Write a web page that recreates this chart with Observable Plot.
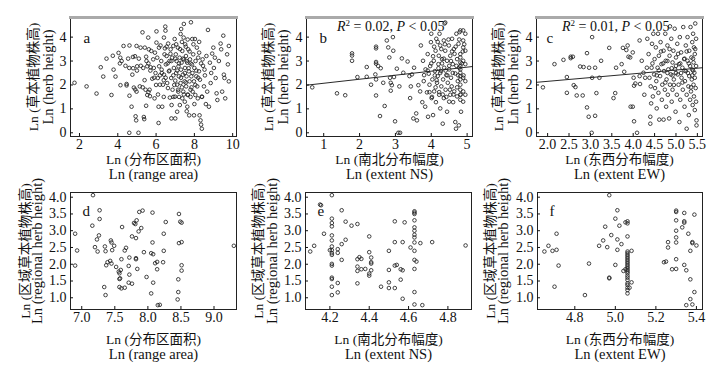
<!DOCTYPE html>
<html>
<head>
<meta charset="utf-8">
<script src="https://cdn.jsdelivr.net/npm/d3@7"></script>
<script src="https://cdn.jsdelivr.net/npm/@observablehq/plot@0.6"></script>
<style>
  html, body { margin: 0; padding: 0; background: #fff; }
  #root { position: relative; width: 719px; height: 368px; overflow: hidden;
          font-family: "Liberation Serif", "Times New Roman", "Noto Sans CJK SC", serif; }
  .panel { position: absolute; }
  .ann { position: absolute; font-size: 14px; white-space: nowrap; color: #111; line-height: 1; }
  .ann sup { font-size: 9px; vertical-align: 5px; line-height: 0; }
</style>
</head>
<body>
<div id="root"></div>
<script>
// ---------- data ----------
const pointsA = [[1.74,2.09],[2.37,1.94],[2.89,1.64],[3.11,2.74],[3.24,2.35],[3.41,3.10],[3.67,1.58],[3.74,3.22],[3.78,2.64],[3.88,2.35],[4.04,3.34],[4.13,3.14],[4.11,2.90],[4.14,1.99],[4.30,3.63],[4.46,2.04],[4.46,1.98],[4.54,3.10],[4.60,2.71],[4.61,3.65],[4.61,1.55],[4.72,1.09],[4.60,0.0],[4.79,3.17],[4.76,2.43],[4.84,1.89],[4.91,1.81],[4.98,1.72],[4.98,3.63],[5.01,2.78],[4.93,0.69],[4.96,0.52],[5.08,0.0],[5.15,1.94],[5.19,3.56],[5.29,4.20],[5.33,2.71],[5.36,0.66],[5.38,0.57],[5.41,3.56],[5.45,1.80],[5.48,1.13],[5.48,3.18],[5.54,1.58],[5.54,2.78],[5.59,3.98],[5.62,3.49],[5.66,1.80],[5.68,1.53],[5.71,2.74],[5.75,3.42],[5.80,2.26],[5.85,3.07],[5.88,2.71],[5.92,1.44],[5.94,3.35],[5.97,2.50],[6.02,4.24],[6.02,3.77],[6.06,3.14],[6.09,2.29],[6.13,1.09],[6.13,0.41],[6.15,3.56],[6.16,2.78],[6.20,2.01],[6.23,3.65],[6.27,3.00],[6.29,2.64],[6.32,1.09],[6.36,2.01],[6.41,3.98],[6.41,2.43],[6.44,3.28],[6.46,3.53],[6.48,4.44],[6.49,4.27],[6.51,2.86],[6.55,3.21],[6.58,2.08],[6.62,1.87],[6.63,3.73],[6.67,2.57],[6.70,3.00],[6.72,1.47],[6.76,3.49],[6.79,2.29],[6.81,1.16],[6.84,3.14],[6.86,1.80],[6.90,3.63],[6.93,2.71],[6.97,3.92],[6.99,1.51],[7.00,2.18],[7.03,3.28],[7.05,2.50],[7.07,3.00],[7.10,2.01],[7.10,0.88],[7.14,3.56],[7.16,1.72],[7.17,2.78],[7.19,2.36],[7.23,3.14],[7.24,1.16],[7.28,4.13],[7.28,2.08],[7.30,2.64],[7.31,4.34],[7.33,2.93],[7.37,1.44],[7.37,3.42],[7.40,2.43],[7.42,1.72],[7.44,3.98],[7.45,3.07],[7.45,4.55],[7.49,2.15],[7.51,2.71],[7.52,3.70],[7.56,3.21],[7.57,1.94],[7.59,2.36],[7.63,1.09],[7.63,2.93],[7.66,1.58],[7.68,3.49],[7.71,2.57],[7.73,0.73],[7.75,2.15],[7.77,3.07],[7.80,1.80],[7.82,4.62],[7.84,2.36],[7.87,2.86],[7.89,3.92],[7.91,1.72],[7.94,3.28],[7.98,0.73],[7.98,2.15],[8.00,2.71],[8.03,3.92],[8.05,1.58],[8.06,3.00],[8.10,2.36],[8.13,3.56],[8.15,1.94],[8.18,1.44],[8.20,3.14],[8.24,2.57],[8.25,3.35],[8.27,0.73],[8.29,2.22],[8.32,0.52],[8.35,0.34],[8.39,0.17],[8.39,1.51],[8.43,3.07],[8.50,1.94],[8.53,2.64],[8.63,3.21],[8.67,1.72],[8.71,4.30],[8.76,1.09],[8.81,2.93],[8.85,2.08],[8.88,2.50],[8.93,3.31],[8.99,3.56],[9.02,2.71],[9.07,3.14],[9.11,2.29],[9.16,1.65],[9.20,1.37],[9.28,3.00],[9.37,3.73],[9.40,3.49],[9.45,1.72],[9.51,4.06],[9.54,2.43],[9.57,2.29],[9.61,1.44],[9.71,3.28],[9.75,2.86],[9.80,3.63],[9.80,2.15],
[6.3,2.5],[6.5,2.3],[6.7,2.6],[6.9,2.4],[7.1,2.6],[7.3,2.3],[7.5,2.5],[7.7,2.7],[6.8,3.0],[7.0,3.1],[7.2,2.9],[7.4,3.1],[7.6,3.0],[7.8,2.9],[6.6,2.9],[7.9,2.5],[8.1,2.6],[8.2,2.3],[6.4,2.2],[6.2,2.4],[5.9,2.3],[5.7,2.6],[5.6,2.9],[6.0,2.0],[7.35,1.9],[7.55,2.1],[7.15,1.8],[6.95,2.0],[7.45,1.6],[7.65,1.6],[7.85,1.9],[8.05,2.0],[6.75,3.3],[7.25,3.5],[7.55,3.6],[7.75,3.4],[6.55,3.6],[7.05,3.7],[7.35,3.8],[7.65,3.9],[7.95,3.7],[8.25,3.8],[8.45,2.8],[8.55,2.4],[8.35,2.9],[5.2,2.8],[5.0,2.6],[4.8,2.7],[5.4,2.2],[5.5,3.0],[4.9,3.2],[5.1,3.1],[4.4,2.8],[4.2,3.0],[5.3,1.9],[5.6,1.7],[6.1,1.6],[6.4,1.5],[6.9,1.5],[7.2,1.5],[7.5,1.3],[7.8,1.5],[8.0,1.2],[8.4,1.5],[6.8,0.6],[7.0,0.6],[7.6,0.9],[8.6,1.2]];

const pointsB = [[0.68,1.90],[1.37,1.65],[1.60,1.57],[1.79,3.32],[1.79,3.23],[1.79,3.01],[1.94,2.33],[2.20,2.34],[2.20,2.75],[2.32,2.01],[2.46,3.60],[2.46,3.53],[2.46,2.96],[2.46,2.89],[2.44,2.44],[2.46,2.23],[2.46,1.56],[2.57,0.70],[2.52,2.79],[2.59,2.70],[2.66,2.09],[2.70,1.12],[2.76,3.86],[2.80,3.57],[2.83,3.15],[2.85,2.30],[2.87,2.09],[2.90,1.99],[2.87,1.76],[2.93,4.00],[2.94,3.43],[2.96,2.33],[2.99,0.48],[3.04,2.68],[3.08,0.0],[3.13,0.0],[3.11,1.94],[3.18,3.11],[3.22,2.51],[3.34,2.98],[3.39,2.37],[3.41,1.45],[3.43,1.94],[3.46,2.44],[3.50,0.60],[3.52,2.72],[3.58,0.81],[3.60,0.52],[3.64,1.99],[3.69,1.73],[3.71,3.65],[3.75,1.28],[3.77,3.01],[3.79,2.16],[3.80,2.41],[3.83,1.09],[3.84,2.65],[3.88,1.69],[3.90,3.29],[3.91,0.67],[3.93,2.47],[3.95,2.01],[3.97,2.79],[3.99,3.79],[4.00,4.14],[4.01,1.45],[4.03,2.23],[4.05,0.74],[4.07,3.01],[4.08,1.73],[4.10,2.58],[4.12,3.43],[4.13,1.28],[4.14,3.93],[4.16,2.09],[4.18,2.37],[4.20,2.87],[4.21,3.22],[4.22,1.59],[4.23,4.14],[4.25,3.65],[4.25,1.02],[4.27,2.58],[4.28,1.94],[4.30,3.08],[4.32,0.38],[4.33,2.23],[4.35,3.86],[4.35,1.45],[4.36,2.72],[4.37,4.57],[4.39,4.61],[4.39,3.43],[4.40,1.80],[4.42,2.41],[4.44,0.88],[4.44,3.01],[4.46,2.09],[4.49,3.65],[4.50,1.30],[4.50,2.65],[4.53,1.59],[4.53,3.22],[4.55,2.30],[4.57,1.94],[4.58,3.93],[4.60,2.87],[4.61,1.28],[4.63,3.50],[4.64,1.73],[4.67,2.48],[4.67,0.45],[4.69,0.17],[4.70,4.14],[4.72,3.08],[4.72,1.52],[4.74,2.16],[4.76,3.72],[4.77,0.31],[4.78,2.72],[4.79,4.21],[4.81,4.28],[4.81,3.29],[4.81,3.15],[4.81,2.94],[4.81,2.79],[4.81,2.65],[4.81,2.51],[4.81,2.37],[4.81,2.23],[4.81,2.01],[4.81,1.80],[4.81,1.59],[4.81,1.38],[4.89,4.28],[4.89,3.86],[4.89,3.57],[4.89,3.01],[4.89,2.30],[4.89,1.73],[4.89,1.30],[4.95,4.14],[4.95,3.43],[4.95,2.87],[4.95,2.16],[4.95,1.59],[4.83,0.88],
[3.9,2.6],[4.0,2.9],[4.1,2.4],[4.2,2.7],[4.3,2.9],[4.4,2.6],[4.5,2.8],[4.6,2.5],[4.7,2.8],[4.05,3.2],[4.15,2.2],[4.25,2.5],[4.35,3.1],[4.45,2.4],[4.55,3.0],[4.65,3.3],[4.75,2.4],[4.85,2.9],[4.9,2.4],[4.12,1.9],[4.22,1.7],[4.32,1.6],[4.42,1.5],[4.52,1.8],[4.62,1.6],[4.72,1.9],[4.82,1.6],[3.95,1.7],[4.02,1.5],[4.08,3.6],[4.18,3.8],[4.28,3.5],[4.38,3.7],[4.48,3.9],[4.58,3.4],[4.68,3.6],[4.78,3.9],[4.88,3.4],[4.92,3.7]];

const pointsC = [[1.89,1.90],[2.16,2.87],[2.37,3.05],[2.45,2.33],[2.45,1.67],[2.54,3.18],[2.54,3.12],[2.59,3.18],[2.61,1.99],[2.65,1.91],[2.68,1.56],[2.76,2.77],[2.82,1.56],[2.84,2.75],[2.92,3.33],[2.92,1.06],[2.96,0.67],[2.97,2.72],[3.04,4.00],[3.04,2.30],[3.11,2.72],[3.11,0.71],[3.14,1.66],[3.21,2.30],[3.25,3.01],[3.03,0.0],[3.44,3.55],[3.54,1.45],[3.58,1.66],[3.60,2.72],[3.73,2.87],[3.76,3.55],[3.79,2.55],[3.84,3.46],[3.87,3.65],[3.89,3.18],[3.93,3.15],[3.94,1.09],[3.99,1.09],[3.99,3.36],[4.01,2.30],[4.02,1.97],[4.05,2.06],[4.02,0.48],[4.09,0.0],[4.15,2.37],[4.15,3.86],[4.16,2.04],[4.20,3.01],[4.24,2.51],[4.26,1.59],[4.28,2.30],[4.32,2.72],[4.33,3.93],[4.36,3.29],[4.38,2.30],[4.40,0.67],[4.40,0.38],[4.41,1.94],[4.42,1.23],[4.43,2.72],[4.44,3.72],[4.46,1.52],[4.47,4.14],[4.49,2.44],[4.50,3.08],[4.51,1.87],[4.53,3.57],[4.54,2.16],[4.55,1.02],[4.57,2.72],[4.58,4.14],[4.59,1.67],[4.60,3.22],[4.61,0.55],[4.63,2.37],[4.64,3.79],[4.66,2.87],[4.67,1.38],[4.68,2.01],[4.71,3.43],[4.71,0.55],[4.72,2.58],[4.74,1.80],[4.75,4.14],[4.76,3.01],[4.77,1.09],[4.78,2.23],[4.80,3.65],[4.81,1.59],[4.82,2.65],[4.84,0.60],[4.85,3.22],[4.86,4.45],[4.86,2.01],[4.88,2.44],[4.89,3.93],[4.90,1.30],[4.92,2.94],[4.92,1.80],[4.94,3.43],[4.95,2.23],[4.97,4.35],[4.98,2.65],[4.99,0.88],[5.00,3.15],[5.02,1.59],[5.03,3.72],[5.04,2.44],[5.06,2.01],[5.07,2.87],[5.08,0.45],[5.09,4.00],[5.10,1.38],[5.12,3.36],[5.13,2.30],[5.15,2.72],[5.16,1.80],[5.17,4.42],[5.19,3.08],[5.20,1.09],[5.21,2.16],[5.23,3.65],[5.23,2.58],[5.25,0.17],[5.25,1.59],[5.27,3.01],[5.27,4.00],[5.29,1.94],[5.30,0.74],[5.31,2.37],[5.31,3.43],[5.33,2.79],[5.33,1.38],[5.34,4.42],[5.35,1.73],[5.36,3.15],[5.37,2.23],[5.38,3.79],[5.38,2.65],[5.39,1.16],[5.40,4.14],[5.41,2.94],[5.41,2.01],[5.42,3.57],[5.42,1.52],[5.43,2.51],[5.44,3.29],[5.44,2.30],[5.44,0.95],[5.45,4.57],[5.46,1.87],[5.47,2.79],[5.48,0.31],[5.48,0.52],[5.47,3.93],[5.47,1.30],
[4.6,2.6],[4.7,2.9],[4.8,2.5],[4.9,2.7],[5.0,2.5],[5.1,2.9],[5.2,2.6],[5.3,2.9],[5.4,2.6],[4.65,3.4],[4.85,3.5],[5.05,3.3],[5.25,3.4],[5.45,3.5],[4.75,2.1],[4.95,2.0],[5.15,2.1],[5.35,1.9],[5.4,3.1],[5.2,3.1],[5.0,2.8],[4.8,3.0],[4.55,2.4],[4.45,2.9],[5.38,2.4],[5.28,2.5],[5.12,2.5],[4.92,2.4]];

const pointsD = [[7.17,4.06],[7.27,3.61],[7.27,3.35],[7.16,3.15],[6.90,2.91],[7.26,2.86],[7.23,2.74],[6.93,2.41],[7.20,2.51],[7.24,2.38],[6.90,1.96],[7.35,2.53],[7.36,2.39],[7.34,1.32],[7.36,1.08],[7.44,2.71],[7.45,2.65],[7.49,2.55],[7.46,2.42],[7.39,2.06],[7.37,1.97],[7.43,2.10],[7.45,2.02],[7.52,1.92],[7.60,2.15],[7.56,1.78],[7.57,1.73],[7.59,1.83],[7.58,1.58],[7.57,1.56],[7.57,1.32],[7.60,1.28],[7.65,1.30],[7.61,3.11],[7.65,2.41],[7.67,2.49],[7.72,2.20],[7.71,1.95],[7.72,1.69],[7.71,1.45],[7.76,1.42],[7.76,2.83],[7.82,2.78],[7.87,3.56],[7.92,3.60],[7.79,3.23],[7.83,3.31],[7.81,3.20],[7.86,2.98],[7.90,3.08],[7.82,2.18],[7.82,2.15],[7.84,1.86],[7.94,2.36],[7.98,1.62],[8.07,3.54],[8.07,2.65],[8.05,2.33],[8.08,2.30],[8.11,2.03],[8.14,2.07],[8.14,1.85],[8.08,1.45],[8.05,1.13],[8.24,2.40],[8.23,2.06],[8.27,3.26],[8.24,2.91],[8.18,0.79],[8.15,0.78],[8.47,3.50],[8.49,3.27],[8.51,3.24],[8.47,2.63],[8.51,2.66],[8.51,1.97],[8.51,1.81],[8.46,1.55],[8.46,1.17],[8.45,0.95],[9.30,2.55]];

const pointsE = [[4.21,4.06],[4.15,3.78],[4.155,3.76],[4.26,3.61],[4.21,3.36],[4.21,3.23],[4.21,3.13],[4.17,2.91],[4.21,2.86],[4.21,2.71],[4.12,2.55],[4.10,2.38],[4.20,2.42],[4.21,2.42],[4.21,2.53],[4.21,2.33],[4.21,2.28],[4.24,2.45],[4.24,2.34],[4.26,2.60],[4.28,2.73],[4.26,2.13],[4.28,3.27],[4.31,3.15],[4.34,3.20],[4.21,2.01],[4.21,1.96],[4.21,1.60],[4.21,1.56],[4.21,1.33],[4.21,1.08],[4.24,1.44],[4.24,1.16],[4.34,2.15],[4.35,2.21],[4.36,2.16],[4.34,1.93],[4.34,1.80],[4.36,1.85],[4.38,1.86],[4.34,1.43],[4.40,2.83],[4.40,2.36],[4.41,2.20],[4.41,2.06],[4.41,2.02],[4.41,1.82],[4.40,1.72],[4.40,1.66],[4.46,1.33],[4.50,2.40],[4.50,1.83],[4.50,1.46],[4.50,1.29],[4.53,3.28],[4.53,2.66],[4.53,1.96],[4.54,1.98],[4.53,1.29],[4.56,1.85],[4.57,1.82],[4.56,1.54],[4.57,2.66],[4.58,3.25],[4.57,0.97],[4.61,2.50],[4.63,3.58],[4.63,3.54],[4.63,3.50],[4.63,3.31],[4.63,3.10],[4.63,3.00],[4.63,2.88],[4.63,2.80],[4.63,2.65],[4.63,2.40],[4.63,2.13],[4.64,2.08],[4.63,1.86],[4.63,1.17],[4.63,0.80],[4.67,0.78],[4.66,2.63],[4.72,2.66],[4.89,2.56]];

const pointsF = [[4.97,4.06],[5.01,3.61],[5.00,3.36],[5.05,3.25],[5.06,3.28],[5.06,3.22],[5.02,3.15],[4.95,3.12],[4.98,2.87],[5.01,2.74],[4.94,2.71],[5.03,2.60],[5.06,2.83],[4.92,2.55],[4.96,2.51],[5.01,2.43],[5.08,2.40],[5.06,2.38],[5.06,2.33],[5.06,2.28],[5.06,2.23],[5.06,2.18],[5.06,2.13],[5.06,2.08],[5.06,2.03],[5.06,1.98],[5.06,1.93],[5.06,1.88],[5.06,1.83],[5.06,1.78],[5.06,1.73],[5.06,1.66],[5.06,1.60],[5.06,1.53],[5.06,1.43],[5.06,1.38],[5.06,1.30],[5.06,1.23],[5.06,1.13],[5.07,1.30],[5.08,1.46],[5.05,1.85],[5.04,1.80],[5.00,1.98],[4.87,2.02],[4.97,1.60],[4.97,1.58],[4.85,1.08],[4.71,2.91],[4.71,2.43],[4.67,2.55],[4.65,2.38],[4.69,2.40],[4.72,1.96],[4.70,1.33],[5.24,2.06],[5.25,2.08],[5.26,2.66],[5.26,2.50],[5.28,1.85],[5.30,3.60],[5.30,3.56],[5.30,3.31],[5.30,3.00],[5.30,2.80],[5.30,2.65],[5.30,2.15],[5.30,1.86],[5.34,3.53],[5.34,3.28],[5.34,3.24],[5.33,3.10],[5.36,2.91],[5.38,2.66],[5.38,2.63],[5.40,2.56],[5.39,3.48],[5.37,2.40],[5.34,1.98],[5.35,1.82],[5.37,1.55],[5.39,1.17],[5.37,0.96],[5.35,0.78],[5.38,0.80]];

const lineB = [[0.52,1.99],[5.15,2.77]];
const lineC = [[1.74,2.11],[5.62,2.72]];

const yLabelTop = ["Ln (草本植物株高)", "Ln (herb height)"];
const yLabelBottom = ["Ln (区域草本植物株高)", "Ln (regional herb height)"];
const xLabels = {
  a: ["Ln (分布区面积)", "Ln (range area)"],
  b: ["Ln (南北分布幅度)", "Ln (extent NS)"],
  c: ["Ln (东西分布幅度)", "Ln (extent EW)"]
};
const ticksTopY = [0, 1, 2, 3, 4];
const ticksBottomY = [1.0, 1.5, 2.0, 2.5, 3.0, 3.5, 4.0];
const ticksA = [2, 4, 6, 8, 10];
const ticksB = [1, 2, 3, 4, 5];
const ticksC = [2.0, 2.5, 3.0, 3.5, 4.0, 4.5, 5.0, 5.5];
const ticksD = [7.0, 7.5, 8.0, 8.5, 9.0];
const ticksE = [4.2, 4.4, 4.6, 4.8];
const ticksF = [4.8, 5.0, 5.2, 5.4];

// ---------- drawing ----------
const FONT = '"Liberation Serif", "Times New Roman", "Noto Sans CJK SC", serif';
const root = document.getElementById("root");

function panel(cfg) {
  const marks = [
    Plot.frame({stroke: "#222", strokeWidth: 1})
  ];
  if (cfg.topBar) marks.push(Plot.frame({anchor: "top", stroke: "#aaa", strokeWidth: 3}));
  marks.push(Plot.axisX({ticks: cfg.xticks, tickFormat: cfg.xfmt, tickSize: -3, tickPadding: 6, label: null, fontSize: 14}));
  marks.push(Plot.axisY({ticks: cfg.yticks, tickFormat: cfg.yfmt, tickSize: -3, tickPadding: 7, label: null, fontSize: 14}));
  if (cfg.line) marks.push(Plot.line(cfg.line, {x: d => d[0], y: d => d[1], stroke: "#111", strokeWidth: 0.9}));
  marks.push(Plot.dot(cfg.points, {x: d => d[0], y: d => d[1], r: 1.8, stroke: "#222", strokeWidth: 0.85, fill: "none"}));
  marks.push(Plot.text([cfg.letter], {frameAnchor: "top-left", dx: cfg.letterDx, dy: cfg.letterDy, text: d => d, textAnchor: "start", fontSize: 15}));
  marks.push(Plot.text([cfg.xlab[0]], {frameAnchor: "bottom", dy: cfg.xlabDy[0], text: d => d, textAnchor: "middle", fontSize: 13.5}));
  marks.push(Plot.text([cfg.xlab[1]], {frameAnchor: "bottom", dy: cfg.xlabDy[1], text: d => d, textAnchor: "middle", fontSize: 14.5}));
  marks.push(Plot.text([cfg.ylab[0]], {frameAnchor: "left", dx: cfg.ylabDx[0], text: d => d, rotate: -90, textAnchor: "middle", fontSize: 13.5}));
  marks.push(Plot.text([cfg.ylab[1]], {frameAnchor: "left", dx: cfg.ylabDx[1], text: d => d, rotate: -90, textAnchor: "middle", fontSize: 14.5}));

  const p = Plot.plot({
    width: cfg.width, height: cfg.height,
    marginLeft: cfg.ml, marginRight: cfg.mr, marginTop: cfg.mt, marginBottom: cfg.mb,
    style: {fontFamily: FONT, fontSize: "14px", color: "#111", background: "transparent", overflow: "visible"},
    x: {domain: cfg.xdom},
    y: {domain: cfg.ydom},
    marks
  });
  const div = document.createElement("div");
  div.className = "panel";
  div.style.left = cfg.left + "px";
  div.style.top = cfg.top + "px";
  div.appendChild(p);
  root.appendChild(div);
}

const f1 = d3.format(".1f");
const topCommon = {top: 0, height: 180, mt: 17, mb: 44, ydom: [-0.155, 4.82], yticks: ticksTopY, yfmt: d3.format("d"), ylab: yLabelTop, xlabDy: [27, 42], topBar: true, letterDy: 15};
const botCommon = {top: 180, height: 188, mt: 12, mb: 59, ydom: [0.65, 4.14], yticks: ticksBottomY, yfmt: f1, ylab: yLabelBottom, xlabDy: [34, 49], topBar: false, letterDy: 13};

panel({...topCommon, left: 0, width: 240, ml: 70, mr: 4, xdom: [1.53, 10.2], xticks: ticksA, xfmt: d3.format("d"), points: pointsA, letter: "a", letterDx: 13, xlab: xLabels.a, ylabDx: [-37, -22]});
panel({...topCommon, left: 240, width: 240, ml: 66, mr: 8, xdom: [0.52, 5.15], xticks: ticksB, xfmt: d3.format("d"), points: pointsB, line: lineB, letter: "b", letterDx: 13, xlab: xLabels.b, ylabDx: [-38, -23]});
panel({...topCommon, left: 480, width: 239, ml: 56, mr: 17, xdom: [1.74, 5.62], xticks: ticksC, xfmt: f1, points: pointsC, line: lineC, letter: "c", letterDx: 10, xlab: xLabels.c, ylabDx: [-38, -23]});
panel({...botCommon, left: 0, width: 240, ml: 70, mr: 4, xdom: [6.83, 9.34], xticks: ticksD, xfmt: f1, points: pointsD, letter: "d", letterDx: 12, xlab: xLabels.a, ylabDx: [-45, -33]});
panel({...botCommon, left: 240, width: 240, ml: 65, mr: 9, xdom: [4.076, 4.92], xticks: ticksE, xfmt: f1, points: pointsE, letter: "e", letterDx: 12, xlab: xLabels.b, ylabDx: [-47, -33]});
panel({...botCommon, left: 480, width: 239, ml: 57, mr: 17, xdom: [4.616, 5.43], xticks: ticksF, xfmt: f1, points: pointsF, letter: "f", letterDx: 12, xlab: xLabels.c, ylabDx: [-47, -34]});

// statistics annotations
const stats = [
  {left: 337, top: 20, r2: "0.02", p: "0.05"},
  {left: 562, top: 20, r2: "0.01", p: "0.05"}
];
for (const s of stats) {
  const d = document.createElement("div");
  d.className = "ann";
  d.style.left = s.left + "px";
  d.style.top = s.top + "px";
  d.innerHTML = `<i>R</i><sup>2</sup> = ${s.r2}, <i>P</i> &lt; ${s.p}`;
  root.appendChild(d);
}
</script>
</body>
</html>
